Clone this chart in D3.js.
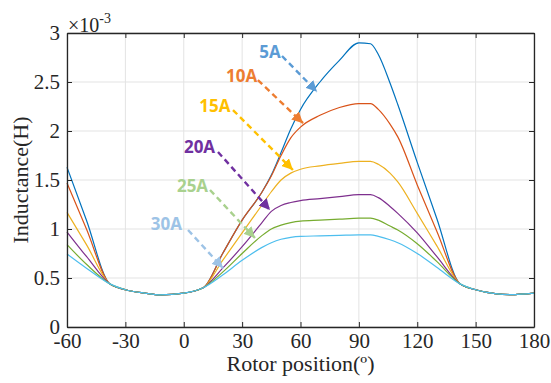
<!doctype html>
<html lang="en">
<head>
<meta charset="utf-8">
<title>Inductance vs rotor position</title>
<script src="https://d3js.org/d3.v7.min.js"></script>
<style>
  body { margin: 0; background: #fff; }
  svg text { font-family: "Liberation Serif", "Times New Roman", serif; }
</style>
</head>
<body>
<div id="chart"></div>
<script>
// rotor position (deg), shared by all series
var positions = [-60, -50, -38, -30, -20, -12, 0, 10, 20, 30, 40, 45, 50, 55, 60, 70, 80, 90, 96, 100, 106, 110, 120, 130, 142, 150, 160, 168, 180];

// inductance in mH (axis shows x10^-3)
var L5A  = [1.63, 1.09, 0.44, 0.38, 0.345, 0.327, 0.345, 0.40, 0.75, 1.09, 1.37, 1.55, 1.78, 2.02, 2.22, 2.50, 2.72, 2.90, 2.89, 2.78, 2.49, 2.27, 1.68, 1.11, 0.44, 0.38, 0.34, 0.33, 0.345];
var L10A = [1.47, 1.00, 0.44, 0.38, 0.345, 0.327, 0.345, 0.40, 0.75, 1.09, 1.37, 1.54, 1.75, 1.93, 2.04, 2.16, 2.24, 2.28, 2.28, 2.22, 2.07, 1.94, 1.45, 0.98, 0.44, 0.38, 0.34, 0.33, 0.345];
var L15A = [1.17, 0.84, 0.44, 0.38, 0.345, 0.327, 0.345, 0.40, 0.68, 0.96, 1.24, 1.38, 1.50, 1.57, 1.61, 1.645, 1.67, 1.69, 1.69, 1.66, 1.57, 1.48, 1.16, 0.83, 0.44, 0.38, 0.34, 0.33, 0.345];
var L20A = [0.97, 0.72, 0.44, 0.38, 0.345, 0.327, 0.345, 0.40, 0.60, 0.82, 1.06, 1.18, 1.24, 1.27, 1.29, 1.31, 1.33, 1.35, 1.35, 1.32, 1.23, 1.16, 0.96, 0.72, 0.44, 0.38, 0.34, 0.33, 0.345];
var L25A = [0.84, 0.64, 0.44, 0.38, 0.345, 0.327, 0.345, 0.40, 0.56, 0.75, 0.93, 1.00, 1.04, 1.065, 1.08, 1.09, 1.10, 1.11, 1.11, 1.09, 1.03, 0.99, 0.85, 0.67, 0.44, 0.38, 0.34, 0.33, 0.345];
var L30A = [0.745, 0.60, 0.44, 0.38, 0.345, 0.327, 0.345, 0.40, 0.53, 0.68, 0.81, 0.86, 0.895, 0.915, 0.925, 0.93, 0.935, 0.94, 0.94, 0.925, 0.89, 0.86, 0.75, 0.61, 0.44, 0.38, 0.34, 0.33, 0.345];

var seriesNames = ['5A', '10A', '15A', '20A', '25A', '30A'];
var seriesValues = [L5A, L10A, L15A, L20A, L25A, L30A];
var lineColors = ['#0072BD', '#D95319', '#EDB120', '#7E2F8E', '#77AC30', '#4DBEEE'];

var xTicks = [-60, -30, 0, 30, 60, 90, 120, 150, 180];
var yTicks = [0, 0.5, 1, 1.5, 2, 2.5, 3];

// annotation labels and dashed arrows, in data units
var annColors = ['#5B9BD5', '#ED7D31', '#FFC000', '#7030A0', '#A9D18E', '#9DC3E6'];
var annText = [[44.3, 2.745], [29.7, 2.5], [16.0, 2.194], [8.1, 1.776], [4.5, 1.378], [-8.9, 0.99]];
var annFrom = [[50.5, 2.765], [38.1, 2.52], [25.3, 2.214], [17.6, 1.786], [13.5, 1.398], [2.2, 0.99]];
var annTo   = [[68.5, 2.40], [61.3, 2.08], [56.1, 1.602], [44.3, 1.194], [36.6, 0.908], [20.2, 0.60]];

var width = 551, height = 383;
var margin = { top: 33, right: 17, bottom: 56, left: 67 };
var w = width - margin.left - margin.right;
var h = height - margin.top - margin.bottom;

var svg = d3.select('#chart').append('svg')
    .attr('width', width)
    .attr('height', height);

svg.append('rect').attr('width', width).attr('height', height).attr('fill', '#fff');

var g = svg.append('g').attr('transform', 'translate(' + margin.left + ',' + margin.top + ')');

var x = d3.scaleLinear().domain([-60, 180]).range([0, w]);
var y = d3.scaleLinear().domain([0, 3]).range([h, 0]);

// grid
g.append('g').selectAll('line').data(xTicks).enter().append('line')
    .attr('x1', d => x(d)).attr('x2', d => x(d))
    .attr('y1', 0).attr('y2', h)
    .attr('stroke', '#e3e3e3').attr('stroke-width', 1);
g.append('g').selectAll('line').data(yTicks).enter().append('line')
    .attr('x1', 0).attr('x2', w)
    .attr('y1', d => y(d)).attr('y2', d => y(d))
    .attr('stroke', '#e3e3e3').attr('stroke-width', 1);

// curves
var line = d3.line()
    .x((d, i) => x(positions[i]))
    .y(d => y(d))
    .curve(d3.curveMonotoneX);

g.append('g').selectAll('path').data(seriesValues).enter().append('path')
    .attr('d', d => line(d))
    .attr('fill', 'none')
    .attr('stroke', (d, i) => lineColors[i])
    .attr('stroke-width', 1.2);

// axes (inside ticks, box like matlab)
var axColor = '#262626';
var plainFmt = d => String(d);   // plain hyphen for negatives, like matlab
var xAxis = g.append('g').attr('transform', 'translate(0,' + h + ')')
    .call(d3.axisBottom(x).tickValues(xTicks).tickSizeInner(-5).tickSizeOuter(0).tickPadding(6).tickFormat(plainFmt));
var xAxisTop = g.append('g')
    .call(d3.axisTop(x).tickValues(xTicks).tickSizeInner(-5).tickSizeOuter(0).tickFormat(''));
var yAxis = g.append('g')
    .call(d3.axisLeft(y).tickValues(yTicks).tickSizeInner(-5).tickSizeOuter(0).tickPadding(7).tickFormat(plainFmt));
var yAxisRight = g.append('g').attr('transform', 'translate(' + w + ',0)')
    .call(d3.axisRight(y).tickValues(yTicks).tickSizeInner(-5).tickSizeOuter(0).tickFormat(''));

[xAxis, xAxisTop, yAxis, yAxisRight].forEach(a => {
    a.selectAll('path').attr('stroke', axColor).attr('stroke-width', 1.3);
    a.selectAll('line').attr('stroke', axColor).attr('stroke-width', 1);
    a.selectAll('text')
        .attr('fill', '#262626')
        .style('font-family', '"Liberation Serif", serif')
        .style('font-size', '21px');
});
xAxis.selectAll('text').attr('dy', '0.71em');
yAxis.selectAll('text').attr('dy', '0.3em');

// exponent
var expo = g.append('text')
    .attr('x', 1).attr('y', -1)
    .attr('fill', '#262626')
    .style('font-size', '20px');
expo.append('tspan').text('\u00d710');
expo.append('tspan').attr('dy', -9).style('font-size', '14px').text('-3');

// axis labels
svg.append('text')
    .attr('x', margin.left + w / 2).attr('y', 371)
    .attr('text-anchor', 'middle')
    .attr('fill', '#262626')
    .style('font-size', '22px')
    .text('Rotor position(\u00ba)');

svg.append('text')
    .attr('transform', 'translate(28,' + (margin.top + h / 2) + ') rotate(-90)')
    .attr('text-anchor', 'middle')
    .attr('fill', '#262626')
    .style('font-size', '22px')
    .text('Inductance(H)');

// annotation arrows
var defs = svg.append('defs');
annColors.forEach((c, i) => {
    defs.append('marker')
        .attr('id', 'arr' + i)
        .attr('viewBox', '0 0 10 10')
        .attr('refX', 10).attr('refY', 5)
        .attr('markerWidth', 4.6).attr('markerHeight', 4.6)
        .attr('markerUnits', 'strokeWidth')
        .attr('orient', 'auto')
        .append('path')
        .attr('d', 'M0,0 L10,5 L0,10 z')
        .attr('fill', c);
});

var ann = g.append('g');
seriesNames.forEach((name, i) => {
    ann.append('line')
        .attr('x1', x(annFrom[i][0])).attr('y1', y(annFrom[i][1]))
        .attr('x2', x(annTo[i][0])).attr('y2', y(annTo[i][1]))
        .attr('stroke', annColors[i])
        .attr('stroke-width', 2.4)
        .attr('stroke-dasharray', '6,4')
        .attr('marker-end', 'url(#arr' + i + ')');
    ann.append('text')
        .attr('x', x(annText[i][0])).attr('y', y(annText[i][1]))
        .attr('text-anchor', 'middle')
        .attr('fill', annColors[i])
        .style('font-family', '"Open Sans", sans-serif')
        .style('font-weight', 'bold')
        .style('font-size', '17px')
        .text(name);
});
</script>
</body>
</html>
